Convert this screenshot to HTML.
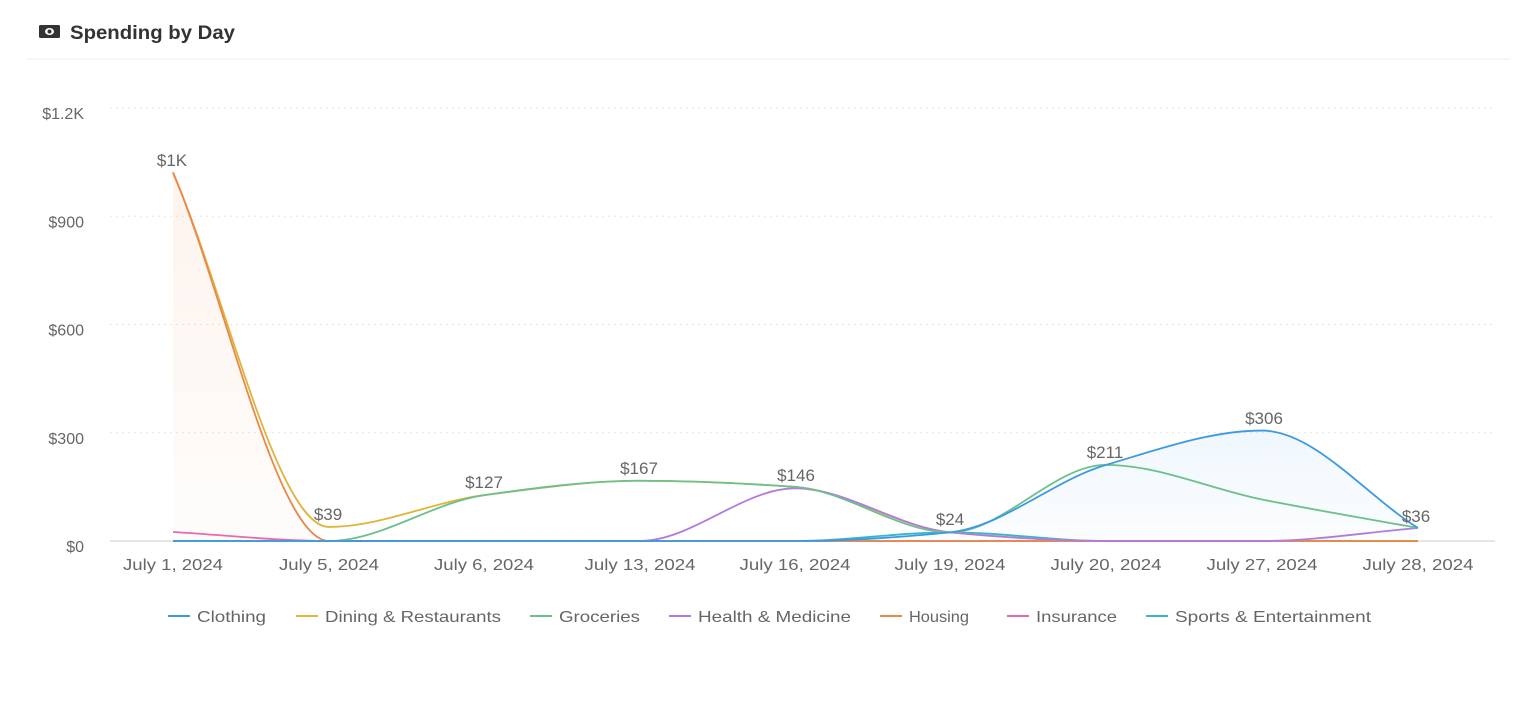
<!DOCTYPE html><html><head><meta charset="utf-8"><style>
body{margin:0;background:#fff;font-family:"Liberation Sans",sans-serif;}
</style></head><body>
<svg id="s" width="1536" height="709" xmlns="http://www.w3.org/2000/svg" font-family="Liberation Sans, sans-serif">
<defs>
<linearGradient id="go" x1="0" y1="0" x2="0" y2="1"><stop offset="0" stop-color="#e8884a" stop-opacity="0.1"/><stop offset="1" stop-color="#e8884a" stop-opacity="0.02"/></linearGradient>
<linearGradient id="gb" x1="0" y1="0" x2="0" y2="1"><stop offset="0" stop-color="#3b9ae1" stop-opacity="0.08"/><stop offset="1" stop-color="#3b9ae1" stop-opacity="0.02"/></linearGradient>
</defs>
<rect x="39" y="25" width="21" height="13" rx="1.5" fill="#333"/>
<ellipse cx="49.5" cy="31.5" rx="4.5" ry="3.5" fill="#fff"/><circle cx="49.5" cy="31.5" r="2" fill="#333"/>
<text x="70" y="39" font-size="19" fill="#333" font-weight="bold" textLength="165" lengthAdjust="spacingAndGlyphs">Spending by Day</text>
<line x1="27" y1="59" x2="1510" y2="59" stroke="#eee"/>
<g id="grid"></g><g id="fills"></g><g id="lines"></g><g id="labels"></g>
</svg>
<script>
const X=[173,329,484,640,795,950,1106,1262,1418];
const Y=v=>541-v*108.25/300;
const dates=["July 1, 2024","July 5, 2024","July 6, 2024","July 13, 2024","July 16, 2024","July 19, 2024","July 20, 2024","July 27, 2024","July 28, 2024"];
const S=[
["Sports & Entertainment","#36b5cc",[0,0,0,0,0,24,0,0,0]],
["Insurance","#e86aa6",[25,0,0,0,0,0,0,0,0]],
["Dining & Restaurants","#e0b43a",[1020,39,127,167,150,24,0,0,0]],
["Housing","#e8884a",[1022,0,0,0,0,0,0,0,0]],
["Health & Medicine","#b07be0",[0,0,0,0,146,24,0,0,36]],
["Groceries","#6cc08b",[0,0,127,167,150,24,211,115,36]],
["Clothing","#3b9ae1",[0,0,0,0,0,24,211,306,36]]];
function mono(xs,ys){const n=xs.length,d=[],m=[];for(let i=0;i<n-1;i++)d.push((ys[i+1]-ys[i])/(xs[i+1]-xs[i]));
m[0]=d[0];m[n-1]=d[n-2];for(let i=1;i<n-1;i++){if(d[i-1]*d[i]<=0)m[i]=0;else{const h0=xs[i]-xs[i-1],h1=xs[i+1]-xs[i];const w1=2*h1+h0,w2=h1+2*h0;m[i]=(w1+w2)/(w1/d[i-1]+w2/d[i]);}}
let p=`M${xs[0]},${ys[0]}`;for(let i=0;i<n-1;i++){const h=(xs[i+1]-xs[i])/3;p+=` C${xs[i]+h},${ys[i]+m[i]*h} ${xs[i+1]-h},${ys[i+1]-m[i+1]*h} ${xs[i+1]},${ys[i+1]}`;}return p;}
const ns="http://www.w3.org/2000/svg";
function el(g,t,a,txt){const e=document.createElementNS(ns,t);for(const k in a)e.setAttribute(k,a[k]);if(txt)e.textContent=txt;document.getElementById(g).appendChild(e);return e;}
[[0,"$0"],[300,"$300"],[600,"$600"],[900,"$900"],[1200,"$1.2K"]].forEach(([v,t])=>{
 if(v>0)el("grid","line",{x1:110,x2:1495,y1:Y(v),y2:Y(v),stroke:"#e6e6e6","stroke-dasharray":"2 4"});
 el("grid","text",{x:84,y:Y(v)+11,"font-size":16,fill:"#666","text-anchor":"end"},t);});
el("grid","line",{x1:110,x2:1495,y1:541,y2:541,stroke:"#ccc"});
X.forEach((x,i)=>el("grid","text",{x:x,y:570,"font-size":16,fill:"#666","text-anchor":"middle",textLength:dates[i].length>12?111:100,lengthAdjust:"spacingAndGlyphs"},dates[i]));
S.forEach(([n,c,v])=>{const p=mono(X,v.map(Y));
 if(n=="Housing")el("fills","path",{d:p+` L1418,541 L173,541 Z`,fill:"url(#go)"});
 if(n=="Clothing")el("fills","path",{d:p+` L1418,541 L173,541 Z`,fill:"url(#gb)"});
 el("lines","path",{d:p,fill:"none",stroke:c,"stroke-width":1.8});});
[["$1K",172,166],["$39",328,520],["$127",484,488],["$167",639,474],["$146",796,481],["$24",950,525],["$211",1105,458],["$306",1264,424],["$36",1416,522]].forEach(([t,x,y])=>el("labels","text",{x:x,y:y,"font-size":17,fill:"#666","text-anchor":"middle"},t));
const L=[["Clothing","#3b9ae1",168,69],["Dining & Restaurants","#e0b43a",296,176],["Groceries","#6cc08b",530,81],["Health & Medicine","#b07be0",669,153],["Housing","#e8884a",880,60],["Insurance","#e86aa6",1007,81],["Sports & Entertainment","#36b5cc",1146,196]];
L.forEach(([t,c,x,w])=>{el("labels","line",{x1:x,x2:x+22,y1:616,y2:616,stroke:c,"stroke-width":2});el("labels","text",{x:x+29,y:622,"font-size":16,fill:"#666",textLength:w,lengthAdjust:"spacingAndGlyphs"},t);});
</script>
</body></html>
